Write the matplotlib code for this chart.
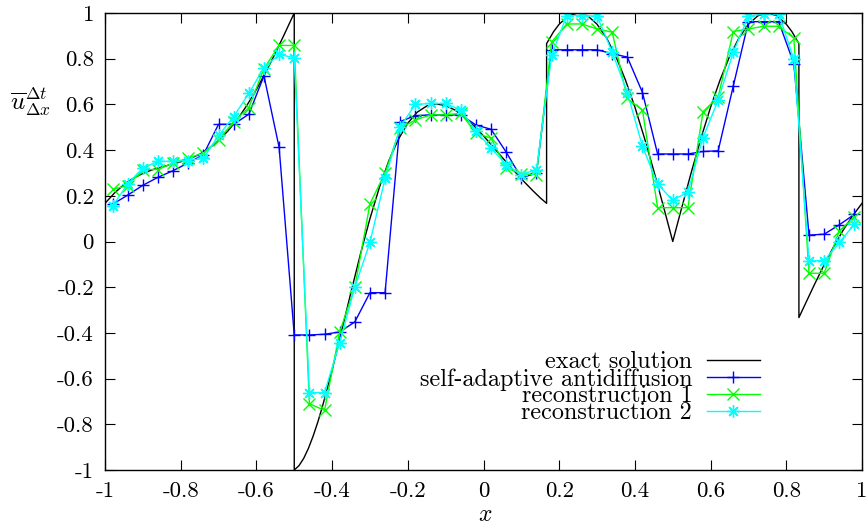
import numpy as np
import matplotlib.pyplot as plt

plt.rcParams['font.family'] = 'cmr10'
plt.rcParams['mathtext.fontset'] = 'cm'
plt.rcParams['axes.unicode_minus'] = False

# cell centres of the 50-cell grid
cells = [-0.98, -0.94, -0.90, -0.86, -0.82, -0.78, -0.74, -0.70, -0.66, -0.62,
         -0.58, -0.54, -0.50, -0.46, -0.42, -0.38, -0.34, -0.30, -0.26, -0.22,
         -0.18, -0.14, -0.10, -0.06, -0.02, 0.02, 0.06, 0.10, 0.14, 0.18,
         0.22, 0.26, 0.30, 0.34, 0.38, 0.42, 0.46, 0.50, 0.54, 0.58,
         0.62, 0.66, 0.70, 0.74, 0.78, 0.82, 0.86, 0.90, 0.94, 0.98]

u_sa = [0.163, 0.203, 0.246, 0.281, 0.310, 0.344, 0.380, 0.513, 0.513, 0.557,
        0.725, 0.412, -0.409, -0.409, -0.406, -0.396, -0.352, -0.224, -0.224, 0.525,
        0.551, 0.554, 0.554, 0.554, 0.510, 0.491, 0.391, 0.278, 0.300, 0.839,
        0.839, 0.839, 0.839, 0.822, 0.807, 0.652, 0.383, 0.383, 0.383, 0.394,
        0.397, 0.681, 0.962, 0.962, 0.962, 0.778, 0.028, 0.032, 0.073, 0.119]

u_rec1 = [0.228, 0.245, 0.315, 0.315, 0.344, 0.365, 0.387, 0.445, 0.525, 0.586,
          0.757, 0.858, 0.858, -0.710, -0.739, -0.396, -0.200, 0.165, 0.300, 0.496,
          0.532, 0.554, 0.554, 0.561, 0.474, 0.452, 0.322, 0.296, 0.293, 0.873,
          0.952, 0.952, 0.930, 0.916, 0.626, 0.575, 0.148, 0.148, 0.148, 0.568,
          0.633, 0.919, 0.930, 0.942, 0.942, 0.890, -0.139, -0.139, 0.047, 0.107]

u_rec2 = [0.155, 0.252, 0.322, 0.351, 0.351, 0.354, 0.365, 0.464, 0.547, 0.648,
          0.761, 0.819, 0.804, -0.661, -0.661, -0.443, -0.200, -0.004, 0.276, 0.503,
          0.600, 0.604, 0.604, 0.575, 0.484, 0.409, 0.336, 0.293, 0.315, 0.815,
          0.989, 0.989, 0.986, 0.829, 0.652, 0.416, 0.252, 0.180, 0.217, 0.455,
          0.619, 0.829, 0.986, 0.996, 0.996, 0.797, -0.084, -0.084, -0.004, 0.076]

exact_x = [-1.0, -0.975, -0.95, -0.925, -0.9, -0.875, -0.85, -0.825, -0.8, -0.775,
           -0.75, -0.725, -0.7, -0.675, -0.65, -0.625, -0.6, -0.575, -0.55, -0.525, -0.5,
           -0.5, -0.4875, -0.475, -0.4625, -0.45, -0.4375, -0.425, -0.4, -0.375, -0.35,
           -0.325, -0.3, -0.275,
           -0.25, -0.225, -0.2, -0.175, -0.15, -0.125, -0.1, -0.075, -0.05, -0.025,
           0.0, 0.025, 0.05, 0.075, 0.1, 0.13, 0.15, 0.1667,
           0.1667, 0.185, 0.2, 0.225, 0.25, 0.275, 0.3, 0.325, 0.35, 0.375,
           0.4, 0.425, 0.45, 0.475, 0.5, 0.525, 0.55, 0.575, 0.6, 0.625,
           0.65, 0.675, 0.7, 0.725, 0.75, 0.775, 0.8, 0.815, 0.8333,
           0.8333, 0.85, 0.875, 0.9, 0.925, 0.95, 0.975, 1.0]
exact_u = [0.167, 0.212, 0.249, 0.277, 0.298, 0.314, 0.326, 0.337, 0.349, 0.363,
           0.382, 0.408, 0.442, 0.484, 0.535, 0.596, 0.665, 0.742, 0.824, 0.911, 1.0,
           -1.0, -0.981, -0.949, -0.905, -0.851, -0.789, -0.719, -0.563, -0.393, -0.221,
           -0.054, 0.100, 0.237,
           0.354, 0.447, 0.518, 0.566, 0.593, 0.602, 0.595, 0.575, 0.544, 0.506,
           0.462, 0.415, 0.367, 0.320, 0.274, 0.223, 0.191, 0.167,
           0.866, 0.918, 0.951, 0.988, 1.0, 0.988, 0.951, 0.891, 0.809, 0.707,
           0.588, 0.454, 0.309, 0.156, 0.0, 0.156, 0.309, 0.454, 0.588, 0.707,
           0.809, 0.891, 0.951, 0.988, 1.0, 0.988, 0.951, 0.918, 0.866,
           -0.333, -0.274, -0.186, -0.102, -0.023, 0.049, 0.112, 0.167]

ticks = [-1, -0.8, -0.6, -0.4, -0.2, 0, 0.2, 0.4, 0.6, 0.8, 1]
tick_labels = ['-1', '-0.8', '-0.6', '-0.4', '-0.2', '0', '0.2', '0.4', '0.6', '0.8', '1']

fig = plt.figure(figsize=(8.68, 5.25), dpi=100)
ax = fig.add_axes([105 / 868, 1 - 470 / 525, 757 / 868, 457 / 525])

ax.plot(exact_x, exact_u, color='black', lw=1.0, label='exact solution')
ax.plot(cells, u_sa, color='#0000ff', lw=1.0, marker='+', ms=8.5, mew=1.0,
        label='self-adaptive antidiffusion')
ax.plot(cells, u_rec1, color='#00ff00', lw=1.0, marker='x', ms=8, mew=1.0,
        label='reconstruction 1')
ax.plot(cells, u_rec2, color='#00ffff', lw=1.0, marker=(8, 2, 0), ms=9, mew=1.0,
        label='reconstruction 2')

ax.set_xlim(-1, 1)
ax.set_ylim(-1, 1)
ax.set_xticks(ticks)
ax.set_xticklabels(tick_labels)
ax.set_yticks(ticks)
ax.set_yticklabels(tick_labels)
ax.tick_params(direction='in', length=7.5, width=0.8, top=True, right=True,
               labelsize=16.5, pad=8)
for s in ax.spines.values():
    s.set_linewidth(1.0)

ax.set_xlabel('$x$', fontsize=17)
ax.xaxis.set_label_coords(0.502, -0.075)
ax.set_ylabel(r'$\overline{u}_{\Delta x}^{\Delta t}$', fontsize=18, rotation=0,
              ha='center', va='center')
ax.yaxis.set_label_coords(-0.098, 0.805)

ax.legend(loc='lower right', bbox_to_anchor=(0.865, 0.10), frameon=False,
          markerfirst=False, fontsize=17.4, handlelength=2.2, handletextpad=0.6,
          labelspacing=-0.22, borderpad=0, borderaxespad=0)

plt.savefig('out.png', dpi=100)
